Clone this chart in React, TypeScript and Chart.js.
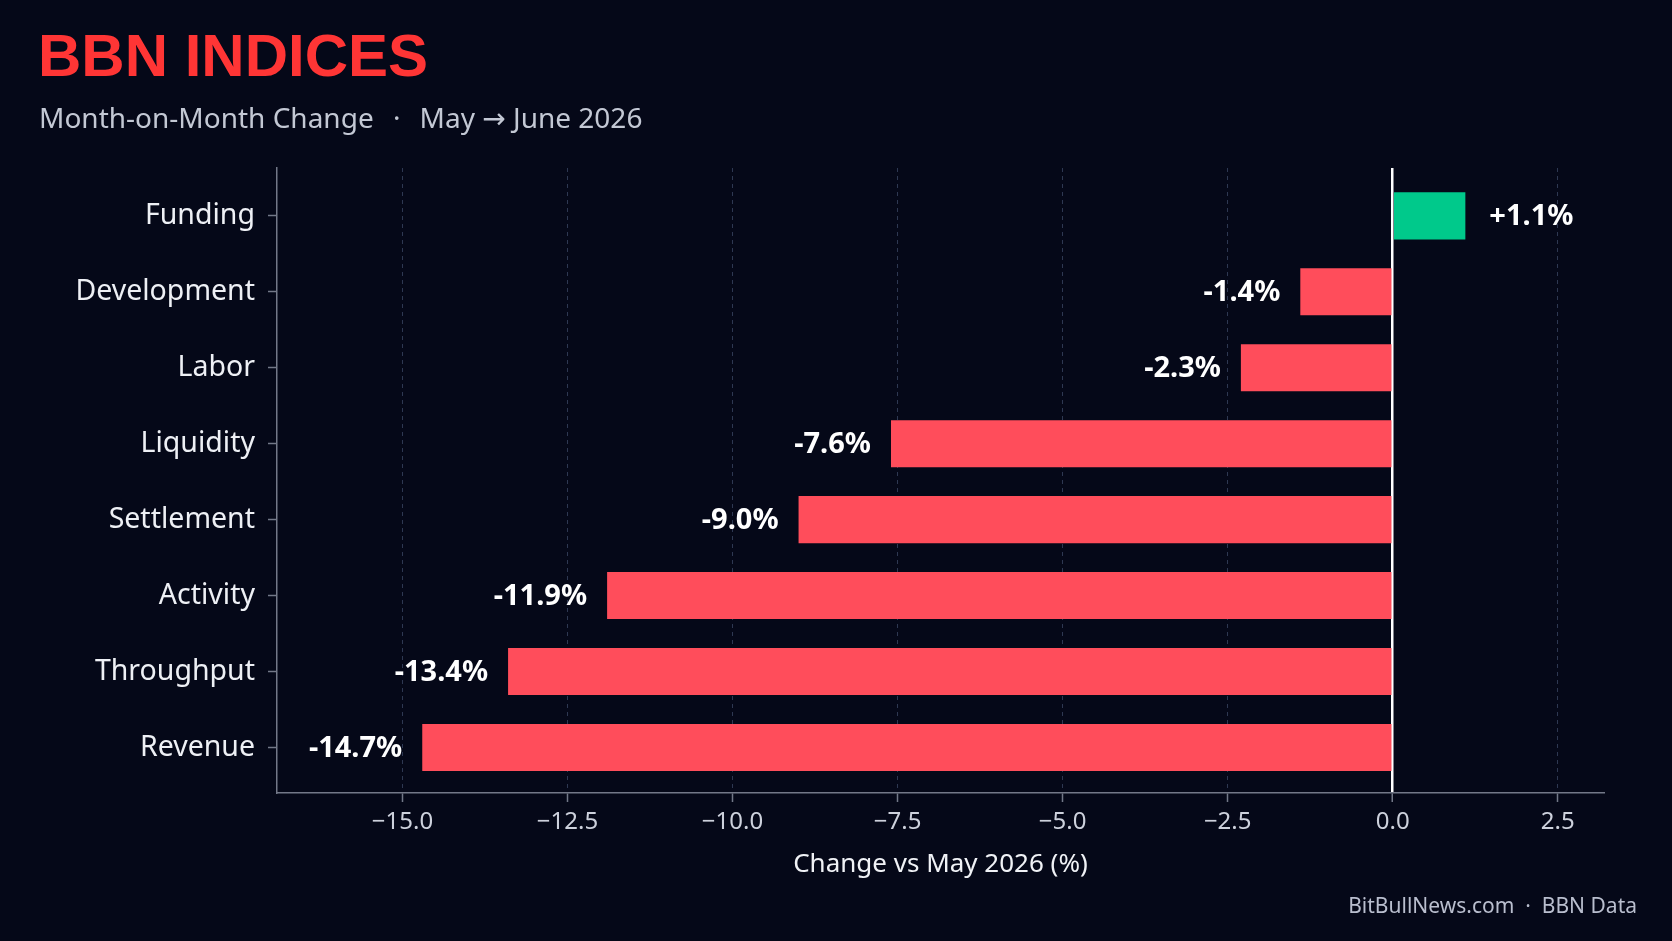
import React, { useEffect, useRef } from "react";
import { Chart, registerables } from "chart.js";

Chart.register(...registerables);

// ---- data ----
const categories = [
  "Funding",
  "Development",
  "Labor",
  "Liquidity",
  "Settlement",
  "Activity",
  "Throughput",
  "Revenue",
];
const changes = [1.1, -1.4, -2.3, -7.6, -9.0, -11.9, -13.4, -14.7];
const xTickValues = [-15, -12.5, -10, -7.5, -5, -2.5, 0, 2.5];

const titleText = "BBN INDICES";
const subtitleText = "Month-on-Month Change  \u2009\u00b7\u2009  May \u2192 June 2026";
const xAxisTitle = "Change vs May 2026 (%)";
const sourceText = "BitBullNews.com  \u00b7  BBN Data";

// ---- style ----
const BG = "#050818";
const RED = "#ff4d5b";
const GREEN = "#00c98b";
const GRID = "#2e3852";
const AXIS = "#737888";
const TICK = "#cdd1dc";
const LABEL = "#eef0f5";
const FONT = "'Noto Sans', 'DejaVu Sans', sans-serif";

const fmtTick = (v: number) => v.toFixed(1).replace("-", "\u2212");
const fmtValue = (v: number) => (v > 0 ? "+" : "") + v.toFixed(1) + "%";

const valueLabels = {
  id: "valueLabels",
  afterDatasetsDraw(chart: any) {
    const ctx = chart.ctx;
    const meta = chart.getDatasetMeta(0);
    ctx.save();
    ctx.font = `bold 29px ${FONT}`;
    ctx.fillStyle = "#ffffff";
    ctx.textBaseline = "middle";
    meta.data.forEach((bar: any, i: number) => {
      const v = changes[i];
      if (v < 0) {
        ctx.textAlign = "right";
        ctx.fillText(fmtValue(v), bar.x - 20, bar.y + 1);
      } else {
        ctx.textAlign = "left";
        ctx.fillText(fmtValue(v), bar.x + 24, bar.y + 1);
      }
    });
    ctx.restore();
  },
};

export default function App() {
  const canvasRef = useRef<HTMLCanvasElement | null>(null);

  useEffect(() => {
    document.body.style.margin = "0";
    document.body.style.background = BG;
    const canvas = canvasRef.current;
    if (!canvas) return;
    const chart = new Chart(canvas, {
      type: "bar",
      data: {
        datasets: [
          {
            data: changes.map((v, i) => ({ x: v, y: i })),
            backgroundColor: changes.map((v) => (v >= 0 ? GREEN : RED)),
            borderWidth: 0,
            categoryPercentage: 1,
            barPercentage: 0.62,
          } as any,
        ],
      },
      options: {
        indexAxis: "y",
        animation: false,
        responsive: false,
        maintainAspectRatio: false,
        layout: { padding: { top: 168, right: 68, bottom: 0, left: 0 } },
        plugins: {
          legend: { display: false },
          tooltip: { enabled: false },
          title: { display: false },
        },
        scales: {
          x: {
            type: "linear",
            position: "bottom",
            min: -16.9,
            max: 3.2,
            offset: false,
            afterBuildTicks: (s: any) => {
              s.ticks = xTickValues.map((v) => ({ value: v }));
            },
            afterFit: (s: any) => {
              s.height = 148;
            },
            grid: {
              offset: false,
              color: (c: any) => (c.tick && c.tick.value === 0 ? "#ffffff" : GRID),
              lineWidth: (c: any) => (c.tick && c.tick.value === 0 ? 2.5 : 1),
              drawTicks: true,
              tickLength: 9,
              tickColor: AXIS,
              tickWidth: 1.5,
            },
            border: {
              display: true,
              color: AXIS,
              width: 1.5,
              dash: (c: any) => (c.tick && c.tick.value === 0 ? [] : [4, 4]),
            },
            ticks: {
              color: TICK,
              font: { family: FONT, size: 24 },
              padding: 6,
              maxRotation: 0,
              autoSkip: false,
              callback: (v: any) => fmtTick(Number(v)),
            },
            title: {
              display: true,
              text: xAxisTitle,
              color: "#f0f2f6",
              font: { family: FONT, size: 26 },
              padding: { top: 0, bottom: 61 },
            },
          },
          y: {
            type: "linear",
            min: -0.63,
            max: 7.6,
            reverse: true,
            offset: false,
            afterBuildTicks: (s: any) => {
              s.ticks = categories.map((_, i) => ({ value: i }));
            },
            afterFit: (s: any) => {
              s.width = 277;
            },
            grid: {
              offset: false,
              drawOnChartArea: false,
              drawTicks: true,
              tickLength: 9,
              tickColor: AXIS,
              tickWidth: 1.5,
            },
            border: { display: true, color: AXIS, width: 1.5 },
            ticks: {
              color: LABEL,
              font: { family: FONT, size: 28.5 },
              padding: 13,
              autoSkip: false,
              callback: (v: any) => categories[Number(v)] ?? "",
            },
          },
        },
      } as any,
      plugins: [valueLabels],
    });
    return () => chart.destroy();
  }, []);

  return (
    <div
      style={{
        position: "fixed",
        left: 0,
        top: 0,
        width: 1672,
        height: 941,
        background: BG,
        overflow: "hidden",
      }}
    >
      <canvas
        ref={canvasRef}
        width={1672}
        height={941}
        style={{ position: "absolute", left: 0, top: 0, width: 1672, height: 941 }}
      />
      <div
        style={{
          position: "absolute",
          left: 38,
          top: 26,
          fontFamily: "'Liberation Sans', Arial, sans-serif",
          fontWeight: 700,
          fontSize: 60,
          lineHeight: "60px",
          color: "#ff3535",
          whiteSpace: "pre",
        }}
      >
        {titleText}
      </div>
      <div
        style={{
          position: "absolute",
          left: 39,
          top: 103,
          fontFamily: FONT,
          fontSize: 28,
          lineHeight: "28px",
          color: "#c3c8d4",
          whiteSpace: "pre",
        }}
      >
        {subtitleText}
      </div>
      <div
        style={{
          position: "absolute",
          right: 35,
          top: 895,
          fontFamily: FONT,
          fontSize: 21,
          lineHeight: "21px",
          color: "#b9bece",
          whiteSpace: "pre",
        }}
      >
        {sourceText}
      </div>
    </div>
  );
}
